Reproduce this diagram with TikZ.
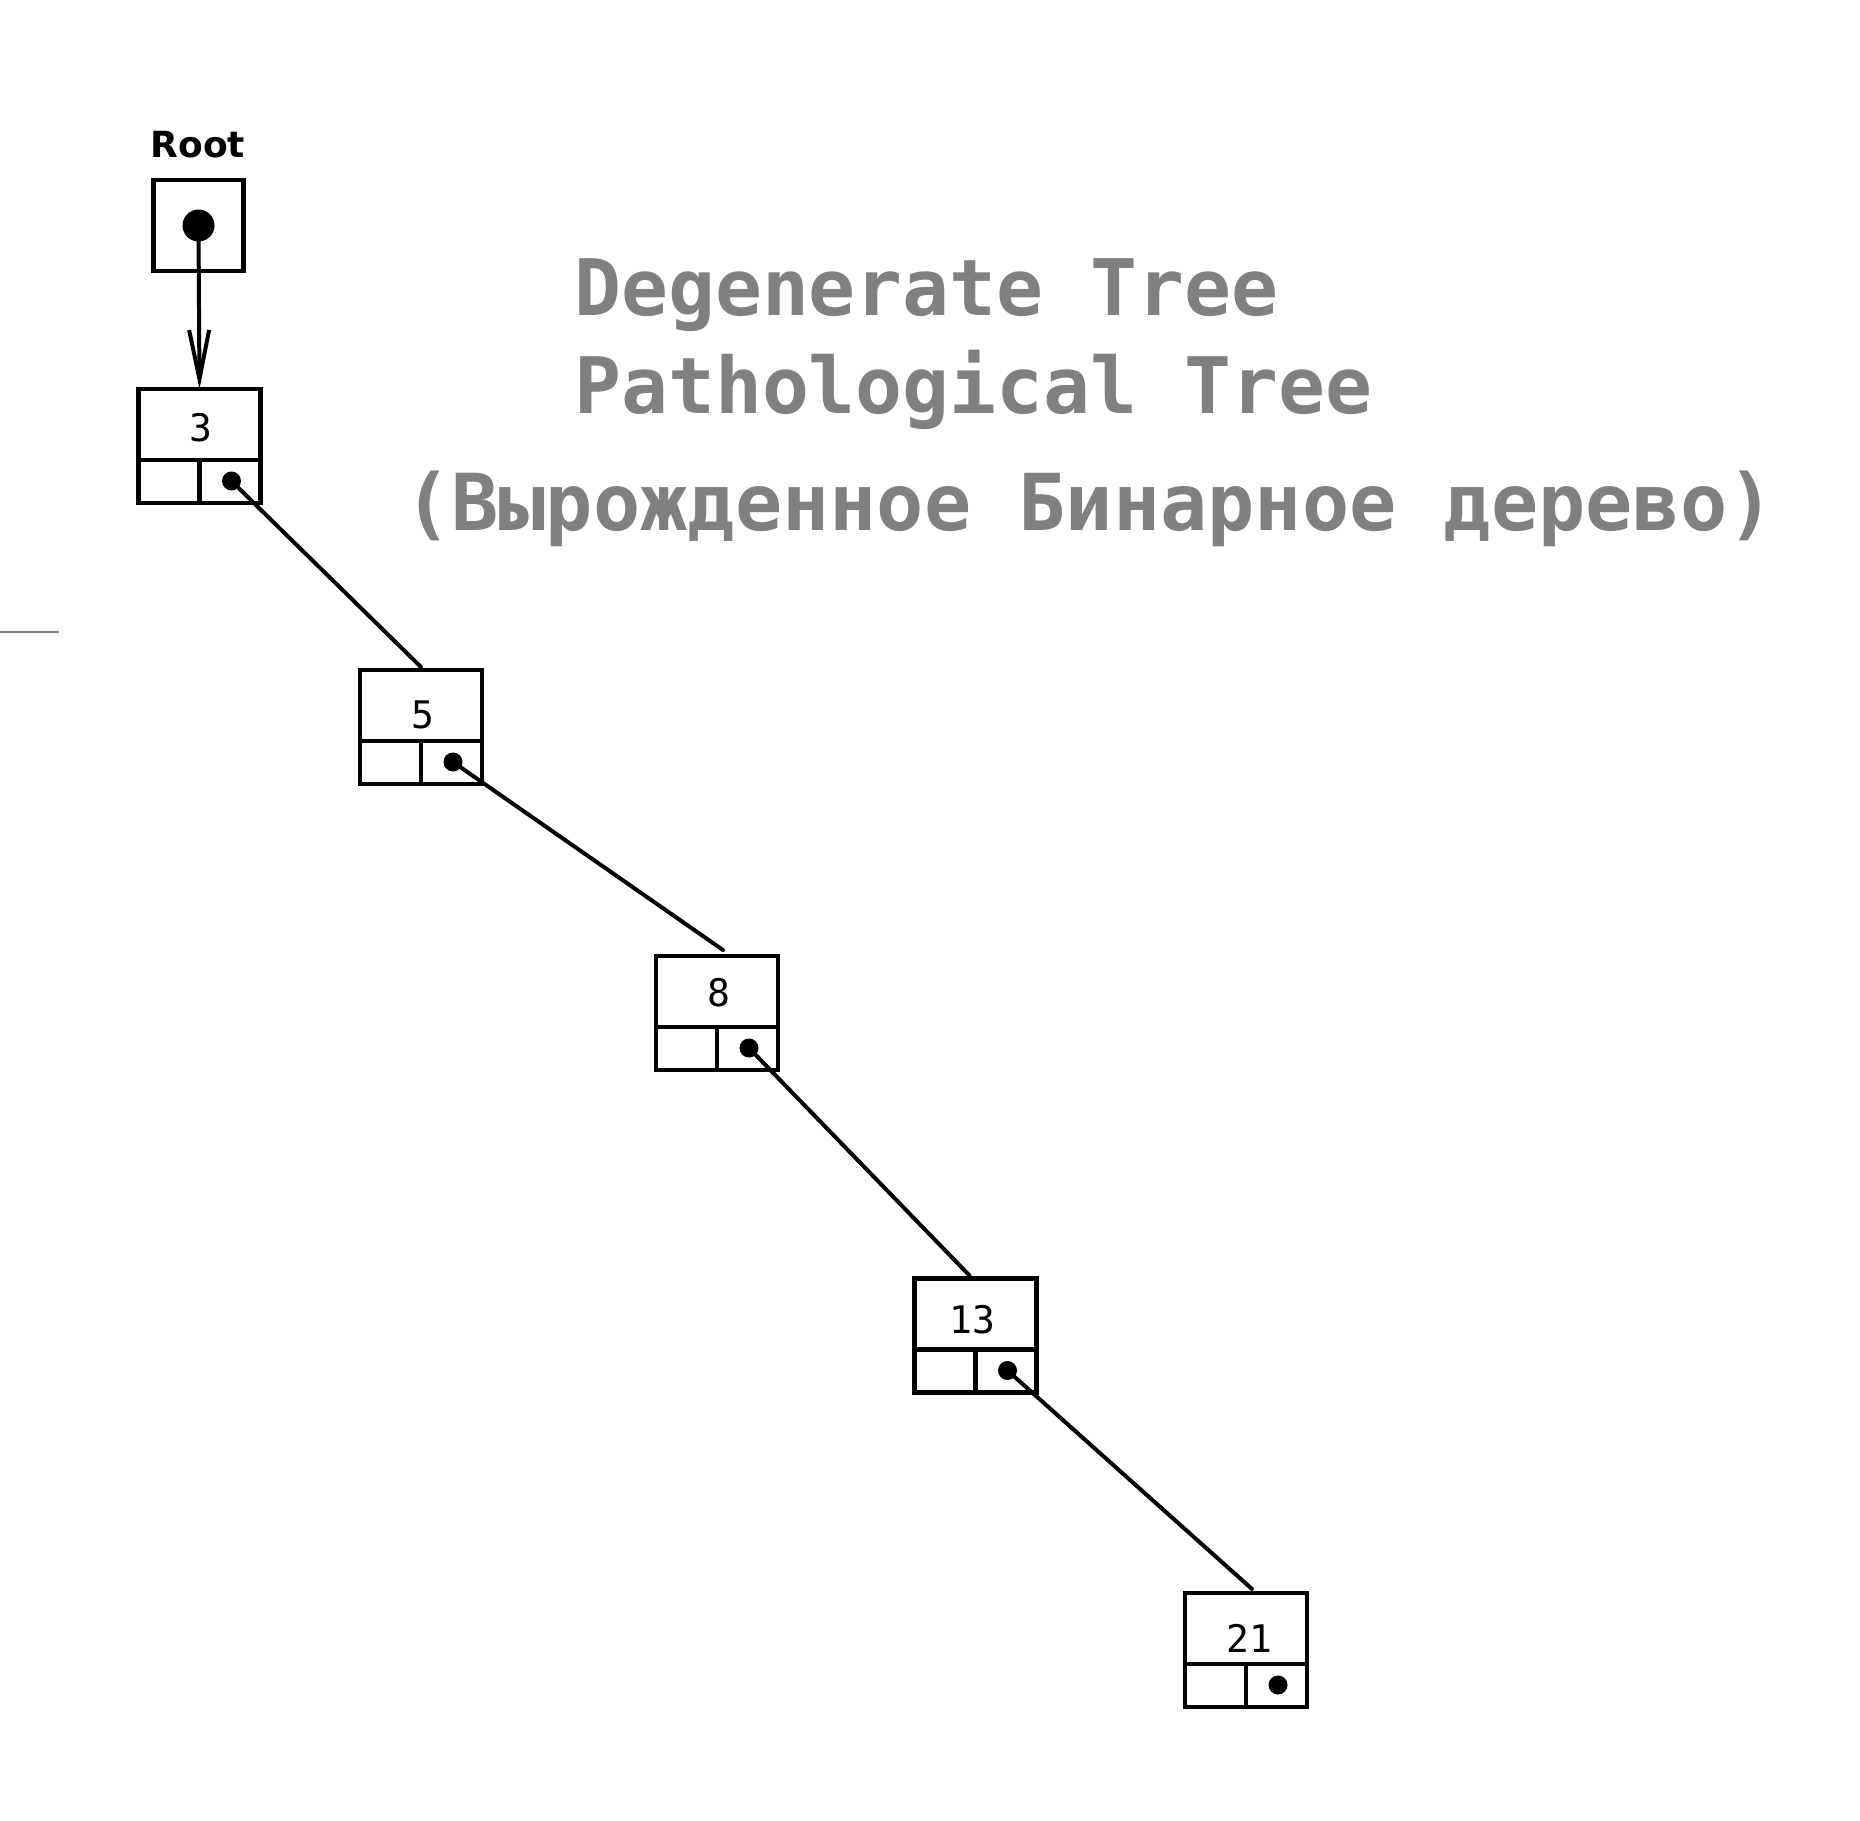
\documentclass[tikz,border=0pt]{standalone}
\usepackage{fontspec}
\usetikzlibrary{calc,arrows.meta}
\newfontfamily\titlefont{DejaVu Sans Mono}
\newfontfamily\rootfont{DejaVu Sans}
\newfontfamily\numfont{DejaVu Sans Mono}
\definecolor{titlegray}{RGB}{128,128,128}
\tikzset{
  tbox/.style={draw, line width=4.6pt, minimum width=122pt, minimum height=114pt, inner sep=0pt, outer sep=0pt},
  rbox/.style={draw, line width=4.6pt, minimum width=90pt, minimum height=91pt, inner sep=0pt, outer sep=0pt},
  divider/.style={line width=4.6pt},
  conn/.style={line width=4pt, line cap=round},
  numtxt/.style={font=\numfont\fontsize{38}{38}\selectfont, inner sep=0pt},
  roottxt/.style={font=\rootfont\bfseries\fontsize{36}{36}\selectfont, inner sep=0pt, anchor=base},
  titletxt/.style={text=titlegray, font=\titlefont\bfseries\fontsize{78}{78}\selectfont, inner sep=0pt, anchor=base west},
  titlebig/.style={titletxt, font=\titlefont\bfseries\fontsize{78.5}{78.5}\selectfont},
}
% name, x, y, label, label offset
\newcommand\treenode[5]{%
  \node[tbox] (#1) at (#2,#3) {};
  \draw[divider] ($(#1.west)+(0,14)$) -- ($(#1.east)+(0,14)$);
  \draw[divider] ($(#1)+(0,14)$) -- (#1.south);
  \node[numtxt] (#1t) at ($(#1)+(#5)$) {#4};
  \coordinate (#1d) at ($(#1)+(32,35)$);
  \fill (#1d) circle[radius=9.5pt];
}
\begin{document}
\begin{tikzpicture}[x=1pt,y=-1pt]
\fill[white] (0,0) rectangle (1860,1820);
\useasboundingbox (0,0) rectangle (1860,1820);
% stray line
\draw[titlegray, line width=1.2pt] (0,632) -- (59,632);
% titles
\node[titletxt] (t1) at (574,315) {Degenerate Tree};
\node[titletxt] (t2) at (574,413) {Pathological Tree};
\node[titlebig] (t3) at (404,530) {(Вырожденное Бинарное дерево)};
% root
\node[roottxt] (rootlbl) at (198,157) {Root};
\node[rbox] (root) at (198.5,225.5) {};
\coordinate (rootd) at (root.center);
\fill (rootd) circle[radius=16pt];
% tree nodes
\treenode{n3}{199.5}{446}{3}{1.5,-18.5}
\treenode{n5}{421}{727}{5}{2,-12}
\treenode{n8}{717}{1013}{8}{2,-20}
\treenode{n13}{975.5}{1335.5}{13}{-3,-15.5}
\treenode{n21}{1246}{1650}{21}{3,-12}
% connectors
\draw[conn, -{Straight Barb[length=49pt,width=20pt]}] (rootd) -- (n3.north);
\draw[conn] (n3d) -- ($(n5.north)+(0,-3)$);
\draw[conn] (n5d) -- ($(n8.north)+(6,-6)$);
\draw[conn] (n8d) -- ($(n13.north)+(-6,-3)$);
\draw[conn] (n13d) -- ($(n21.north)+(6,-4)$);
\end{tikzpicture}
\end{document}
